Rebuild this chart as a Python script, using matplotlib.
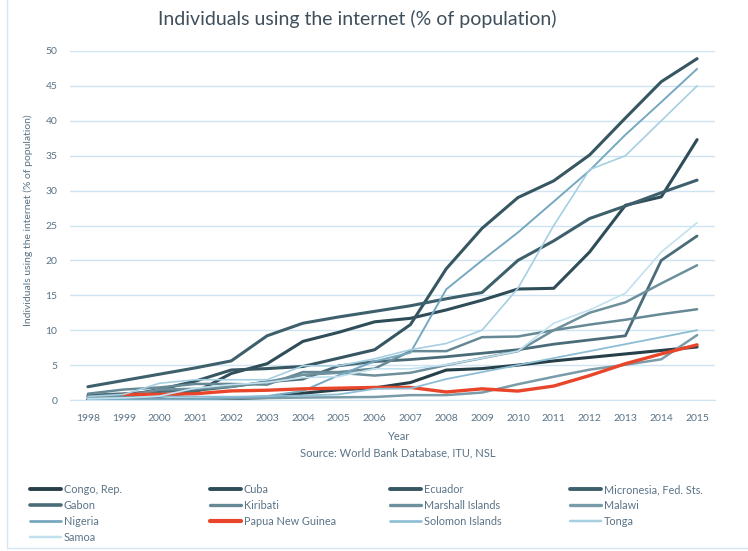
import numpy as np
import matplotlib
matplotlib.use("Agg")
import matplotlib.pyplot as plt
from matplotlib.patches import Rectangle

plt.rcParams['font.family'] = ['Lato', 'DejaVu Sans']

# ---------------------------------------------------------
# Data (% of population using the internet)
# ---------------------------------------------------------
years = [str(y) for y in range(1998, 2016)]

congo = [0.0, 0.01, 0.03, 0.02, 0.17, 0.36, 0.97, 1.46, 1.73, 2.5, 4.29, 4.5, 5.0, 5.6, 6.1, 6.6, 7.1, 7.6]
cuba = [0.1, 0.3, 0.5, 1.1, 3.8, 5.2, 8.4, 9.7, 11.2, 11.7, 12.9, 14.3, 15.9, 16.0, 21.2, 27.9, 29.1, 37.3]
ecuador = [0.5, 0.6, 1.5, 2.7, 4.3, 4.5, 4.8, 6.0, 7.2, 10.8, 18.8, 24.6, 29.0, 31.4, 35.1, 40.4, 45.6, 48.9]
micronesia = [1.9, 2.8, 3.7, 4.6, 5.6, 9.2, 11.0, 11.9, 12.7, 13.5, 14.5, 15.4, 20.0, 22.8, 26.0, 27.8, 29.7, 31.5]
gabon = [0.7, 0.9, 1.2, 1.35, 1.9, 2.6, 3.0, 4.9, 5.5, 5.8, 6.2, 6.7, 7.2, 8.0, 8.6, 9.2, 20.0, 23.5]
kiribati = [0.9, 1.5, 1.8, 2.3, 2.3, 2.2, 4.0, 4.0, 4.5, 7.0, 7.0, 9.0, 9.1, 10.0, 10.8, 11.5, 12.3, 13.0]
marshall = [0.3, 0.5, 1.5, 1.6, 1.9, 2.6, 3.6, 3.9, 3.5, 3.9, 5.0, 6.0, 7.0, 10.0, 12.5, 14.0, 16.7, 19.3]
malawi = [0.0, 0.06, 0.13, 0.16, 0.22, 0.28, 0.35, 0.39, 0.43, 0.7, 0.7, 1.07, 2.26, 3.33, 4.35, 5.05, 5.83, 9.3]
nigeria = [0.02, 0.03, 0.06, 0.09, 0.32, 0.56, 1.29, 3.55, 5.55, 6.77, 15.86, 20.0, 24.0, 28.43, 32.88, 38.0, 42.68, 47.44]
png = [np.nan, 0.8, 0.8, 0.9, 1.3, 1.4, 1.6, 1.7, 1.8, 1.8, 1.15, 1.6, 1.28, 2.0, 3.5, 5.2, 6.6, 7.9]
solomon = [0.1, 0.3, 0.48, 0.49, 0.47, 0.55, 0.65, 0.8, 1.6, 1.65, 3.0, 4.0, 5.0, 6.0, 7.0, 8.0, 9.0, 10.0]
tonga = [0.5, 0.8, 2.4, 2.9, 2.9, 2.9, 4.9, 4.9, 5.9, 7.2, 8.1, 10.0, 16.0, 25.0, 33.0, 35.0, 40.0, 45.0]
samoa = [0.2, 0.3, 0.57, 1.7, 2.2, 2.5, 3.2, 3.35, 4.47, 4.47, 5.03, 6.0, 7.0, 11.0, 12.9, 15.3, 21.2, 25.4]

# name, values, colour, width  (Excel order, row-wise in the legend)
SERIES = [
    ("Congo, Rep.", congo, "#263f48", 2.2),
    ("Cuba", cuba, "#2f4d58", 2.2),
    ("Ecuador", ecuador, "#365662", 2.2),
    ("Micronesia, Fed. Sts.", micronesia, "#3e606c", 2.2),
    ("Gabon", gabon, "#4a6c78", 2.0),
    ("Kiribati", kiribati, "#668995", 1.8),
    ("Marshall Islands", marshall, "#6d909c", 1.8),
    ("Malawi", malawi, "#7a9ca8", 1.8),
    ("Nigeria", nigeria, "#76a8c0", 1.4),
    ("Papua New Guinea", png, "#e8452b", 2.4),
    ("Solomon Islands", solomon, "#8dbdd4", 1.3),
    ("Tonga", tonga, "#a6cfe2", 1.2),
    ("Samoa", samoa, "#c2e1ef", 1.2),
]

TXT = "#5a7386"
GRID = "#cfe4f2"

# ---------------------------------------------------------
# Plot
# ---------------------------------------------------------
fig = plt.figure(figsize=(7.48, 5.51), dpi=100)
ax = fig.add_axes([70/748, 1 - 400/551, 645/748, 349/551])

x = np.arange(len(years))
handles = []
for name, vals, col, lw in SERIES:
    ln, = ax.plot(x, vals, color=col, lw=lw, solid_capstyle="round",
                  solid_joinstyle="round", label=name)
    handles.append(ln)

ax.set_xlim(-0.5, len(years) - 0.5)
ax.set_ylim(0, 50)
ax.set_xticks(x)
ax.set_xticklabels(years)
ax.set_yticks(range(0, 51, 5))
ax.tick_params(length=0, labelsize=7.5, colors=TXT)
ax.tick_params(axis="y", pad=9)
ax.tick_params(axis="x", pad=10)
ax.grid(axis="y", color=GRID, lw=1)
ax.set_axisbelow(True)
for s in ["top", "right", "left"]:
    ax.spines[s].set_visible(False)
ax.spines["bottom"].set_color(GRID)

# Texts
fig.text(357/748, 1 - 19/551, "Individuals using the internet (% of population)",
         ha="center", va="center", fontsize=14, color="#3f4f5c")
fig.text(28/748, 1 - 220/551, "Individuals using the internet (% of population)",
         rotation=90, ha="center", va="center", fontsize=7.5, color=TXT)
fig.text(398/748, 1 - 437/551, "Year", ha="center", va="center",
         fontsize=8, color=TXT)
fig.text(398/748, 1 - 453/551, "Source: World Bank Database, ITU, NSL",
         ha="center", va="center", fontsize=8, color=TXT)

# Legend: four columns, filled row-wise like the original
col_x = [30, 210, 390, 570]
for c in range(4):
    hs = handles[c::4]
    leg = fig.legend(hs, [h.get_label() for h in hs], loc="upper left",
                     bbox_to_anchor=(col_x[c]/748, 1 - 484/551),
                     frameon=False, fontsize=7.8, handlelength=2.9,
                     handletextpad=0.2, labelspacing=0.45,
                     borderaxespad=0, borderpad=0, labelcolor=TXT)
    for h in leg.get_lines():
        h.set_linewidth(h.get_linewidth() + 0.6)

# faint frame around the chart
fig.patches.append(Rectangle((7/748, 3/551), 1.0, 1.0, fill=False,
                             edgecolor="#d6e6f0", lw=1,
                             transform=fig.transFigure, figure=fig))

fig.savefig("out.png", dpi=100)
